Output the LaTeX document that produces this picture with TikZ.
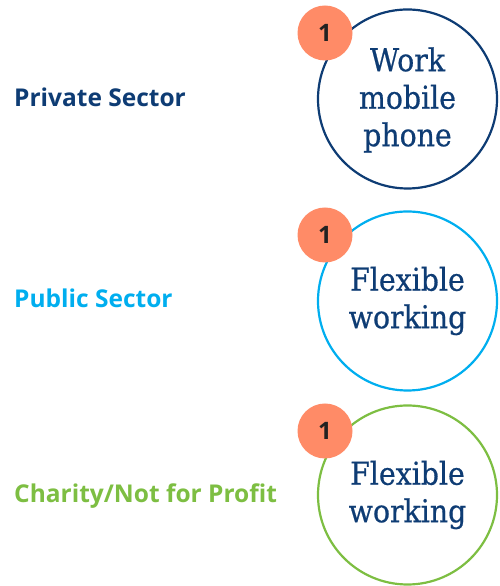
\documentclass[tikz,border=0pt]{standalone}
\usepackage{fontspec}
\setmainfont{Open Sans}
\newfontfamily\circlefont[FakeStretch=0.9,FakeBold=0.6]{DejaVu Serif}
\newfontfamily\labelfont{Open Sans}
\definecolor{navy}{HTML}{0E3C74}
\definecolor{skyblue}{HTML}{00AEEF}
\definecolor{leafgreen}{HTML}{7DBE42}
\definecolor{salmon}{HTML}{FF8B67}
\definecolor{digit}{HTML}{222222}
\tikzset{
  x=1pt, y=1pt,
  sectorlabel/.style={anchor=base west, inner sep=0pt,
    font=\labelfont\bfseries\fontsize{24.5}{28}\selectfont},
  ring/.style={circle, draw=#1, line width=2.2pt, minimum size=179pt, inner sep=0pt},
  ringtext/.style={align=center, text=navy, inner sep=0pt,
    font=\circlefont\fontsize{31.5}{37.5}\selectfont},
  badge/.style={circle, fill=salmon, minimum size=55pt, inner sep=0pt,
    text=digit, font=\labelfont\bfseries\fontsize{24}{24}\selectfont},
}
\begin{document}
\begin{tikzpicture}
\useasboundingbox (0,0) rectangle (500,586);
% sector names
\node[sectorlabel, text=navy] (private) at (14,479) {Private Sector};
\node[sectorlabel, text=skyblue] (public) at (14,278) {Public Sector};
\node[sectorlabel, text=leafgreen] (charity) at (14,83) {Charity/Not for Profit};
% outlined circles
\node[ring=navy] (c1) at (407.5,487) {};
\node[ring=skyblue] (c2) at (407.5,285) {};
\node[ring=leafgreen] (c3) at (407.5,91) {};
% texts inside the circles
\node[ringtext] (t1) at (407.5,486) {Work\\mobile\\phone};
\node[ringtext] (t2) at (407.5,285) {Flexible\\working};
\node[ringtext] (t3) at (407.5,91) {Flexible\\working};
% number badges
\node[badge] (b1) at (325,553) {1};
\node[badge] (b2) at (325,351) {1};
\node[badge] (b3) at (325,155) {1};
\end{tikzpicture}
\end{document}
